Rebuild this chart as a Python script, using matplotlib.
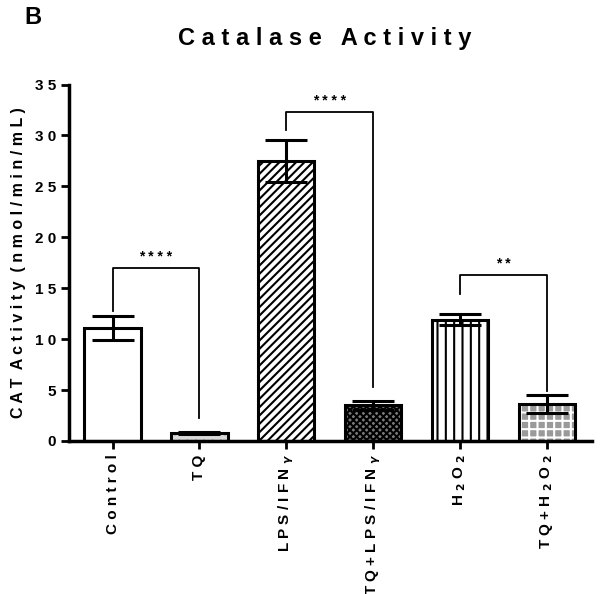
import matplotlib
matplotlib.use('Agg')
import matplotlib.pyplot as plt
import numpy as np

plt.rcParams['font.family'] = ['Liberation Sans', 'DejaVu Sans']
plt.rcParams['font.weight'] = 'bold'
plt.rcParams['hatch.linewidth'] = 1.5

groups = ['C o n t r o l', 'T Q', 'L P S / I F N $_\\gamma$', 'T Q + L P S / I F N $_\\gamma$',
          'H $_2$ O $_2$', 'T Q + H $_2$ O $_2$']
means = [11.1, 0.8, 27.5, 3.5, 11.9, 3.6]
errs = [1.15, 0.12, 2.05, 0.45, 0.55, 0.9]
yticks = [0, 5, 10, 15, 20, 25, 30, 35]

# significance brackets: (left, right, bar height, left leg end, right leg end, label)
brackets = [
    (0, 1, 17.0, 12.8, 2.3, '* * * *'),
    (2, 3, 32.3, 30.5, 5.3, '* * * *'),
    (4, 5, 16.3, 14.4, 4.9, '* *'),
]

fills = ['white', '#d8d8d8', 'white', '#7a7a7a', 'white', '#9a9a9a']
hatches = [None, '..', '////', 'xxxxx', '||', '++']
hatch_cols = ['black', 'black', 'black', 'black', 'black', 'white']

fig = plt.figure(figsize=(6.01, 5.94), dpi=100)
ax = fig.add_axes([0.115, 0.2576, 0.87, 0.6])

x = np.arange(len(groups))
for i in range(len(groups)):
    ax.bar(x[i], means[i], width=0.65, color=fills[i], edgecolor=hatch_cols[i],
           hatch=hatches[i], linewidth=0, zorder=2)
    ax.bar(x[i], means[i], width=0.65, color='none', edgecolor='black',
           linewidth=2.2, zorder=3)
ax.errorbar(x, means, yerr=errs, fmt='none', ecolor='black', elinewidth=2.2,
            capsize=15, capthick=2.2, zorder=4)

for l, r, h, yl, yr, lab in brackets:
    ax.plot([l, l, r, r], [yl, h, h, yr], color='black', lw=1.3, zorder=5)
    ax.text((l + r) / 2, h + 0.4, lab, ha='center', va='bottom', fontsize=10)

ax.set_xlim(-0.5, 5.52)
ax.set_ylim(0, 35)
ax.set_yticks(yticks)
ax.set_yticklabels([' '.join(str(t)) for t in yticks])
ax.set_xticks(x)
ax.set_xticklabels(groups, rotation=90, fontsize=11)
ax.tick_params(axis='y', labelsize=11, width=2, length=6)
ax.tick_params(axis='x', width=2, length=6)
for s in ['top', 'right']:
    ax.spines[s].set_visible(False)
for s in ['left', 'bottom']:
    ax.spines[s].set_linewidth(2.5)

ax.set_ylabel('C A T  A c t i v i t y  ( n m o l / m i n / m L )', fontsize=11.5,
              fontweight='bold', labelpad=6)
fig.text(0.54, 0.935, 'C a t a l a s e   A c t i v i t y', ha='center', va='center',
         fontsize=17, fontweight='bold')
fig.text(0.04, 0.97, 'B', ha='left', va='center', fontsize=17, fontweight='bold')

fig.savefig('out.png', dpi=100)
